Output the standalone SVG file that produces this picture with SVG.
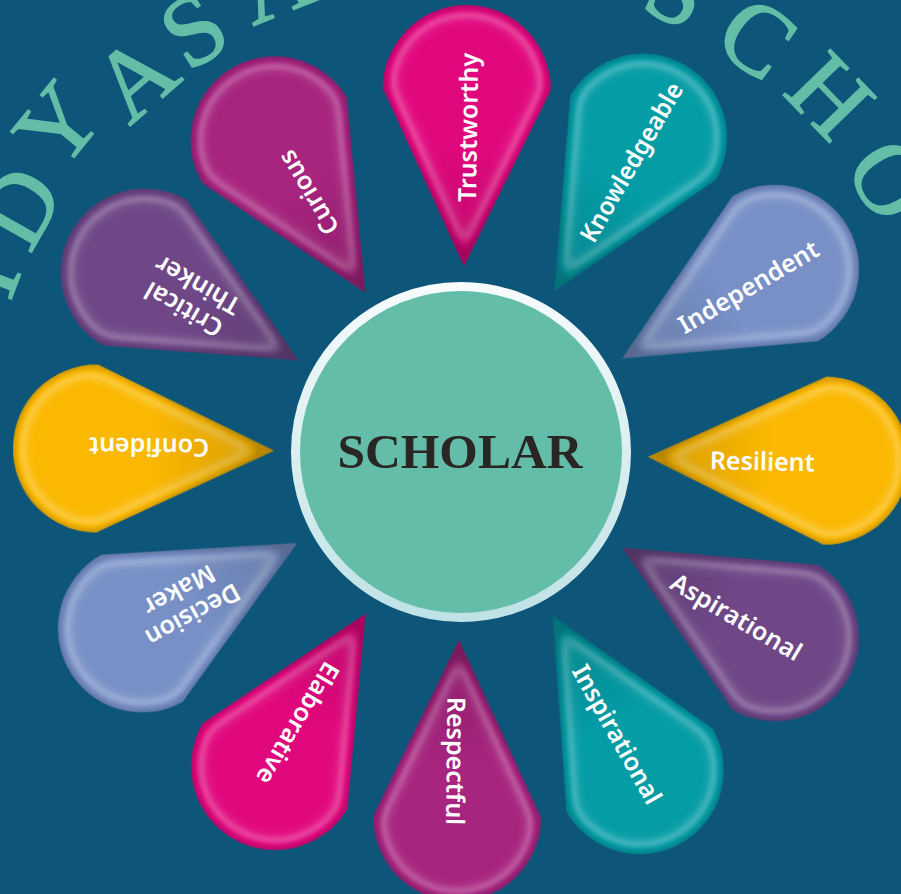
<svg xmlns="http://www.w3.org/2000/svg" xmlns:xlink="http://www.w3.org/1999/xlink" width="901" height="894" viewBox="0 0 901 894">
  <style>
    .lbl { font-family: "Noto Sans", "Open Sans", sans-serif; font-size: 25px; font-weight: 600; fill: #ffffff; }
    .two { text-anchor: middle; }
    .arc { font-family: "Liberation Serif", "Times New Roman", serif; font-size: 100px; fill: #63bda7; stroke: #63bda7; stroke-width: 1.6px; text-anchor: middle; }
    .yel { fill: #fbb800; }
    .pur { fill: #6f4787; }
    .tea { fill: #049ca5; }
    .mag { fill: #a7247f; }
    .pnk { fill: #e1087e; }
    .per { fill: #7890c6; }
    .shade { fill: url(#tipShade); }
  </style>
  <defs>
    <path id="petalShape" d="M187,0 L364,-84 A84,84 0 0 1 364,84 Z"/>
    <linearGradient id="tipShade" gradientUnits="userSpaceOnUse" x1="187" y1="0" x2="310" y2="0">
      <stop offset="0" stop-color="#000" stop-opacity="0.16"/>
      <stop offset="1" stop-color="#000" stop-opacity="0"/>
    </linearGradient>
    <linearGradient id="ringGrad" x1="0" y1="0" x2="0" y2="1">
      <stop offset="0" stop-color="#f6fbfc"/>
      <stop offset="1" stop-color="#bfe2e6"/>
    </linearGradient>
    <filter id="bevel" x="-0.1" y="-0.1" width="1.2" height="1.2" color-interpolation-filters="sRGB">
      <feGaussianBlur in="SourceAlpha" stdDeviation="10" result="b"/>
      <feComponentTransfer in="b" result="hi">
        <feFuncR type="linear" slope="0" intercept="1"/>
        <feFuncG type="linear" slope="0" intercept="1"/>
        <feFuncB type="linear" slope="0" intercept="1"/>
        <feFuncA type="table" tableValues="0 0 0 0 0 0 0 0 0 0 0 0 0 0.02 0.06 0.13 0.2 0.22 0.16 0.06 0"/>
      </feComponentTransfer>
      <feComponentTransfer in="b" result="dk">
        <feFuncA type="table" tableValues="0.14 0.14 0.14 0.14 0.14 0.14 0.14 0.14 0.14 0.14 0.14 0.12 0.08 0.04 0.01 0 0 0 0 0 0"/>
      </feComponentTransfer>
      <feComposite in="hi" in2="SourceAlpha" operator="in" result="hi2"/>
      <feComposite in="dk" in2="SourceAlpha" operator="in" result="dk2"/>
      <feMerge>
        <feMergeNode in="SourceGraphic"/>
        <feMergeNode in="hi2"/>
        <feMergeNode in="dk2"/>
      </feMerge>
    </filter>
  </defs>

  <rect width="901" height="894" fill="#0d5579"/>

  <g id="arc-title">
    <text class="arc" transform="translate(-15 275) rotate(-69.5)" y="33">I</text>
    <text class="arc" transform="translate(19 207) rotate(-60.5)" y="33">D</text>
    <text class="arc" transform="translate(58 125) rotate(-50.8)" y="33">Y</text>
    <text class="arc" transform="translate(135 78) rotate(-41)" y="33">A</text>
    <text class="arc" transform="translate(194 30) rotate(-32.3)" y="33">S</text>
    <text class="arc" transform="translate(274 -18) rotate(-22)" y="33">A</text>
    <text class="arc" transform="translate(678 -10) rotate(25.5)" y="33">S</text>
    <text class="arc" transform="translate(757 38) rotate(35.5)" y="33">C</text>
    <text class="arc" transform="translate(830 96) rotate(45.9)" y="33">H</text>
    <text class="arc" transform="translate(890 180) rotate(57.2)" y="33">O</text>
  </g>

  <g id="connectors"></g>

  <g id="petal-resilient" transform="translate(461 453) rotate(1.2)">
    <use href="#petalShape" class="yel" filter="url(#bevel)"/>
    <use href="#petalShape" class="shade"/>
    <text class="lbl" x="249" y="11">Resilient</text>
  </g>
  <g id="petal-aspirational" transform="translate(461 453) rotate(30.4)">
    <use href="#petalShape" class="pur" filter="url(#bevel)"/>
    <use href="#petalShape" class="shade"/>
    <text class="lbl" x="247" y="11">Aspirational</text>
  </g>
  <g id="petal-inspirational" transform="translate(461 453) rotate(60.6)">
    <use href="#petalShape" class="tea" filter="url(#bevel)"/>
    <use href="#petalShape" class="shade"/>
    <text class="lbl" x="244" y="11">Inspirational</text>
  </g>
  <g id="petal-respectful" transform="translate(461 453) rotate(90.6)">
    <use href="#petalShape" class="mag" filter="url(#bevel)"/>
    <use href="#petalShape" class="shade"/>
    <text class="lbl" x="244" y="11">Respectful</text>
  </g>
  <g id="petal-elaborative" transform="translate(461 453) rotate(120.7)">
    <use href="#petalShape" class="pnk" filter="url(#bevel)"/>
    <use href="#petalShape" class="shade"/>
    <text class="lbl" x="247" y="11">Elaborative</text>
  </g>
  <g id="petal-decision-maker" transform="translate(461 453) rotate(151.2)">
    <use href="#petalShape" class="per" filter="url(#bevel)"/>
    <use href="#petalShape" class="shade"/>
    <text class="lbl two" x="313" y="-4">Decision</text>
    <text class="lbl two" x="313" y="24">Maker</text>
  </g>
  <g id="petal-confident" transform="translate(461 453) rotate(180.7)">
    <use href="#petalShape" class="yel" filter="url(#bevel)"/>
    <use href="#petalShape" class="shade"/>
    <text class="lbl" x="252" y="11">Confident</text>
  </g>
  <g id="petal-critical-thinker" transform="translate(461 453) rotate(209.7)">
    <use href="#petalShape" class="pur" filter="url(#bevel)"/>
    <use href="#petalShape" class="shade"/>
    <text class="lbl two" x="312" y="-4">Critical</text>
    <text class="lbl two" x="312" y="24">Thinker</text>
  </g>
  <g id="petal-curious" transform="translate(461 453) rotate(239.2)">
    <use href="#petalShape" class="mag" filter="url(#bevel)"/>
    <use href="#petalShape" class="shade"/>
    <text class="lbl" x="255" y="11">Curious</text>
  </g>
  <g id="petal-trustworthy" transform="translate(461 453) rotate(270.9)">
    <use href="#petalShape" class="pnk" filter="url(#bevel)"/>
    <use href="#petalShape" class="shade"/>
    <text class="lbl" x="251" y="11">Trustworthy</text>
  </g>
  <g id="petal-knowledgeable" transform="translate(461 453) rotate(300)">
    <use href="#petalShape" class="tea" filter="url(#bevel)"/>
    <use href="#petalShape" class="shade"/>
    <text class="lbl" x="247" y="11" textLength="180" lengthAdjust="spacingAndGlyphs">Knowledgeable</text>
  </g>
  <g id="petal-independent" transform="translate(461 453) rotate(329.6)">
    <use href="#petalShape" class="per" filter="url(#bevel)"/>
    <use href="#petalShape" class="shade"/>
    <text class="lbl" x="253" y="11">Independent</text>
  </g>

  <g id="center-scholar">
    <circle cx="461" cy="452" r="165.5" fill="#64bda8" stroke="url(#ringGrad)" stroke-width="9"/>
    <text x="460" y="468" text-anchor="middle" font-family="'Liberation Serif', 'Times New Roman', serif" font-weight="bold" font-size="49.5" fill="#2a2623">SCHOLAR</text>
  </g>
</svg>
